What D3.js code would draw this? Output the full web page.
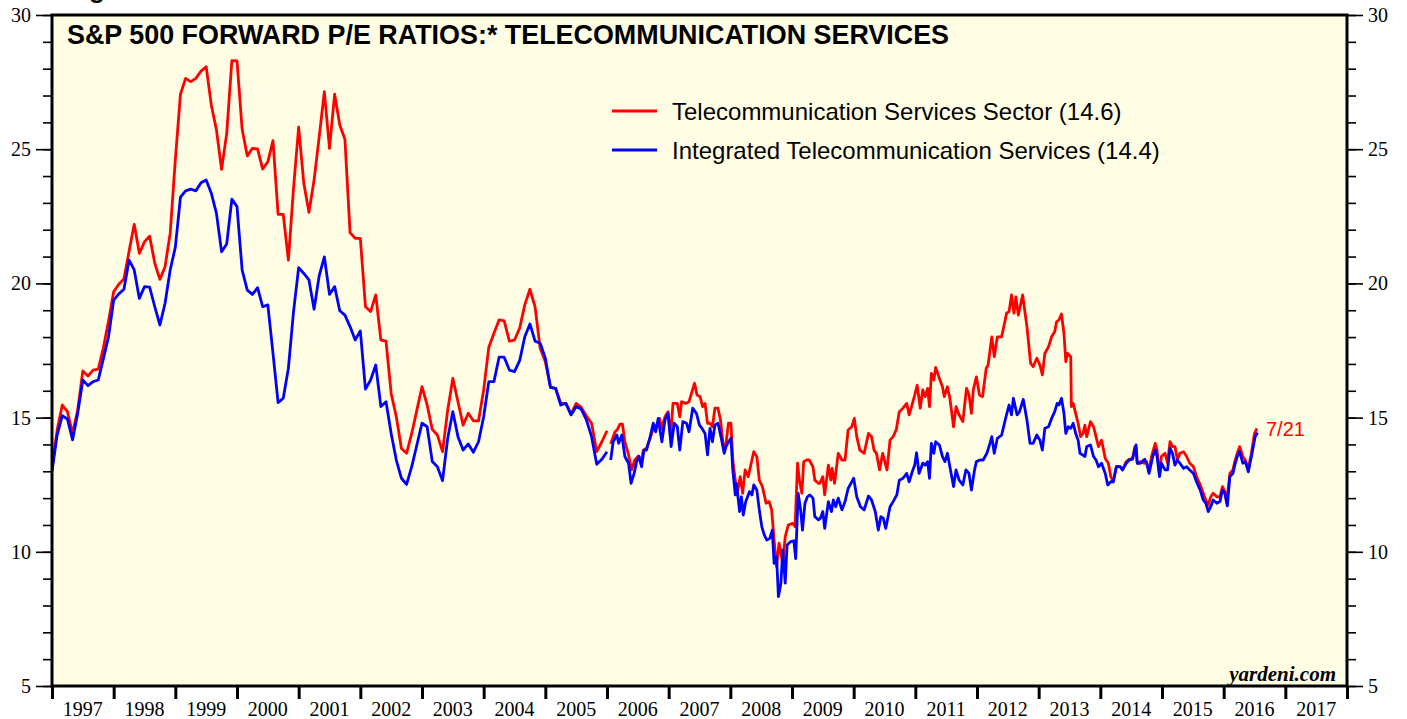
<!DOCTYPE html>
<html>
<head>
<meta charset="utf-8">
<script src="https://cdn.jsdelivr.net/npm/d3@7/dist/d3.min.js"></script>
<style>
  body { margin: 0; background: #fff; }
  svg { display: block; }
</style>
</head>
<body>
<svg id="chart" width="1407" height="719"></svg>
<script>
// year labels along the bottom
var years = d3.range(1997, 2018);
var yMajor = [5, 10, 15, 20, 25, 30];
var yMinor = d3.range(5, 31);

// monthly readings, Jan 1997 .. Jan 2006
var telecomMonthly = [
  13.1, 14.54, 15.47, 15.22, 14.41, 15.28, 16.74, 16.55, 16.77, 16.81, 17.6, 18.6,
  19.69, 19.97, 20.16, 21.2, 22.2, 21.12, 21.55, 21.76, 20.75, 20.15, 20.62, 21.87,
  24.6, 27.05, 27.64, 27.52, 27.64, 27.91, 28.07, 26.65, 25.72, 24.25, 25.59, 28.3,
  28.29, 25.74, 24.75, 25.03, 25.01, 24.26, 24.53, 25.32, 22.57, 22.57, 20.87, 23.54,
  25.82, 23.73, 22.65, 23.85, 25.47, 27.14, 25.03, 27.05, 25.9, 25.37, 21.89, 21.68,
  21.68, 19.13, 18.95, 19.57, 17.89, 17.85, 15.9, 15.03, 13.85, 13.67, 14.41, 15.28,
  16.15, 15.47, 14.56, 14.35, 13.73, 15.28, 16.46, 15.59, 14.72, 15.16, 14.88, 14.88,
  16.03, 17.62, 18.14, 18.64, 18.6, 17.85, 17.89, 18.33, 19.2, 19.78, 19.13, 17.58,
  17.08, 16.13, 16.09, 15.53, 15.53, 15.13, 15.53, 15.38, 15.06, 14.79, 13.73, 14.1,
  14.51
];
var integratedMonthly = [
  13.0, 14.35, 15.07, 14.95, 14.17, 15.16, 16.4, 16.19, 16.34, 16.4, 17.2, 18.01,
  19.38, 19.61, 19.78, 20.87, 20.5, 19.44, 19.88, 19.86, 19.13, 18.45, 19.26, 20.5,
  21.35, 23.21, 23.45, 23.51, 23.45, 23.75, 23.85, 23.36, 22.61, 21.18, 21.47, 23.14,
  22.86, 20.5, 19.75, 19.59, 19.84, 19.13, 19.2, 17.4, 15.56, 15.72, 16.84, 18.95,
  20.59, 20.37, 20.13, 19.04, 20.29, 20.99, 19.59, 19.88, 18.98, 18.82, 18.39, 17.89,
  18.23, 16.06, 16.4, 16.96, 15.41, 15.59, 14.41, 13.42, 12.74, 12.51, 13.17, 13.98,
  14.79, 14.66, 13.36, 13.17, 12.65, 14.23, 15.22, 14.29, 13.79, 14.02, 13.71, 14.1,
  15.03, 16.34, 16.34, 17.25, 17.25, 16.77, 16.71, 17.12, 18.01, 18.49, 17.85, 17.77,
  17.21, 16.13, 16.09, 15.47, 15.53, 15.1, 15.41, 15.31, 14.91, 14.29, 13.26, 13.45,
  13.73
];

// weekly readings from 2006 on: [year fraction, P/E]
var telecomWeekly = [
  [2006.06,14.02],[2006.13,14.47],[2006.17,14.56],[2006.21,14.76],[2006.25,14.76],[2006.29,14.10],
  [2006.35,13.61],[2006.40,13.05],[2006.45,13.42],[2006.51,13.57],[2006.55,13.30],[2006.59,13.79],
  [2006.64,13.86],[2006.70,14.23],[2006.75,14.60],[2006.81,14.72],[2006.85,14.97],[2006.89,14.60],
  [2006.94,15.03],[2006.99,15.22],[2007.03,14.29],[2007.07,15.53],[2007.14,15.53],[2007.18,15.03],
  [2007.21,15.59],[2007.28,15.53],[2007.33,15.59],[2007.37,15.90],[2007.42,16.28],[2007.46,15.84],
  [2007.51,15.78],[2007.55,15.41],[2007.59,15.53],[2007.63,14.79],[2007.67,14.79],[2007.71,14.66],
  [2007.75,15.35],[2007.80,15.35],[2007.84,14.91],[2007.89,13.86],[2007.93,14.04],[2007.97,14.79],
  [2008.01,14.79],[2008.04,13.42],[2008.08,12.67],[2008.11,12.12],[2008.16,12.80],[2008.20,12.18],
  [2008.24,13.05],[2008.29,12.80],[2008.35,13.42],[2008.38,13.73],[2008.43,13.55],[2008.47,12.67],
  [2008.52,12.43],[2008.58,11.81],[2008.63,11.87],[2008.67,11.56],[2008.71,10.44],[2008.75,9.45],
  [2008.79,10.32],[2008.85,9.57],[2008.89,10.56],[2008.94,11.00],[2009.01,11.06],[2009.05,10.94],
  [2009.09,13.30],[2009.12,12.67],[2009.16,12.18],[2009.19,13.36],[2009.24,13.42],[2009.28,13.42],
  [2009.34,13.17],[2009.37,12.67],[2009.43,12.55],[2009.45,12.55],[2009.50,12.80],[2009.53,12.12],
  [2009.59,13.23],[2009.63,12.67],[2009.65,13.11],[2009.69,12.55],[2009.75,13.67],[2009.81,13.42],
  [2009.86,13.42],[2009.91,14.54],[2009.97,14.66],[2010.01,14.97],[2010.05,14.29],[2010.10,13.79],
  [2010.17,13.67],[2010.24,14.41],[2010.29,14.29],[2010.33,13.79],[2010.37,13.67],[2010.42,13.05],
  [2010.47,13.67],[2010.54,13.05],[2010.59,14.16],[2010.64,14.29],[2010.69,14.54],[2010.74,15.22],
  [2010.80,15.35],[2010.86,15.53],[2010.90,15.10],[2010.96,15.59],[2010.99,15.84],[2011.03,16.21],
  [2011.08,15.35],[2011.12,16.03],[2011.16,15.78],[2011.20,16.09],[2011.23,15.41],[2011.26,16.65],
  [2011.30,16.40],[2011.33,16.87],[2011.39,16.46],[2011.44,16.15],[2011.47,15.78],[2011.52,16.15],
  [2011.56,15.72],[2011.62,14.66],[2011.66,15.41],[2011.71,15.10],[2011.77,14.85],[2011.83,16.09],
  [2011.87,15.84],[2011.91,15.16],[2011.94,16.03],[2011.99,16.52],[2012.04,15.84],[2012.09,15.78],
  [2012.15,16.84],[2012.18,16.96],[2012.24,18.01],[2012.28,17.27],[2012.33,18.01],[2012.40,18.01],
  [2012.48,18.89],[2012.52,18.95],[2012.56,19.57],[2012.60,18.89],[2012.63,19.50],[2012.67,18.82],
  [2012.74,19.57],[2012.81,18.39],[2012.87,17.02],[2012.91,16.90],[2012.97,17.21],[2013.02,16.96],
  [2013.06,16.59],[2013.10,17.39],[2013.16,17.64],[2013.21,18.01],[2013.26,18.20],[2013.29,18.57],
  [2013.33,18.64],[2013.37,18.86],[2013.41,18.14],[2013.44,17.08],[2013.47,17.39],[2013.52,17.27],
  [2013.53,15.41],[2013.56,15.53],[2013.60,15.16],[2013.64,14.79],[2013.68,14.29],[2013.72,14.41],
  [2013.75,14.72],[2013.78,14.29],[2013.84,14.85],[2013.89,14.66],[2013.93,14.29],[2013.97,13.92],
  [2014.02,14.16],[2014.08,13.48],[2014.13,13.30],[2014.17,12.80],[2014.21,12.61],[2014.26,13.17],
  [2014.32,13.17],[2014.36,13.05],[2014.42,13.36],[2014.47,13.45],[2014.52,13.45],[2014.56,13.92],
  [2014.60,13.30],[2014.65,13.36],[2014.71,13.30],[2014.75,13.36],[2014.79,12.98],[2014.83,13.55],
  [2014.89,14.04],[2014.92,13.79],[2014.96,12.86],[2014.99,13.55],[2015.05,13.67],[2015.09,13.30],
  [2015.13,14.10],[2015.17,13.92],[2015.21,13.92],[2015.25,13.42],[2015.29,13.67],[2015.35,13.73],
  [2015.40,13.55],[2015.45,13.30],[2015.51,13.17],[2015.56,12.80],[2015.62,12.49],[2015.67,12.18],
  [2015.71,11.93],[2015.75,11.74],[2015.79,12.05],[2015.83,12.18],[2015.89,12.05],[2015.94,12.05],
  [2015.98,12.43],[2016.02,12.24],[2016.05,11.81],[2016.10,12.92],[2016.15,13.05],[2016.18,13.36],
  [2016.22,13.67],[2016.26,13.92],[2016.31,13.55],[2016.35,13.42],[2016.40,13.11],[2016.45,13.67],
  [2016.50,14.41],[2016.54,14.60]
];
var integratedWeekly = [
  [2006.06,13.42],[2006.10,14.10],[2006.16,14.35],[2006.19,14.04],[2006.24,14.35],[2006.29,13.55],
  [2006.35,13.30],[2006.39,12.55],[2006.44,12.92],[2006.48,13.36],[2006.52,13.55],[2006.56,13.17],
  [2006.60,13.79],[2006.64,13.79],[2006.70,14.29],[2006.75,14.79],[2006.79,14.47],[2006.83,14.97],
  [2006.89,14.10],[2006.94,14.91],[2006.99,15.16],[2007.04,13.92],[2007.09,14.79],[2007.14,14.66],
  [2007.18,13.79],[2007.23,14.85],[2007.29,14.79],[2007.33,14.47],[2007.39,15.35],[2007.45,15.16],
  [2007.50,14.72],[2007.54,14.60],[2007.59,14.41],[2007.63,13.61],[2007.67,14.60],[2007.71,14.10],
  [2007.75,14.72],[2007.80,14.79],[2007.86,14.16],[2007.90,13.67],[2007.93,13.92],[2007.97,14.10],
  [2008.01,14.23],[2008.04,13.05],[2008.08,12.12],[2008.10,12.55],[2008.15,11.50],[2008.18,12.05],
  [2008.21,11.37],[2008.25,11.87],[2008.31,12.24],[2008.35,12.12],[2008.38,12.49],[2008.43,12.30],
  [2008.47,11.56],[2008.51,10.94],[2008.55,10.63],[2008.59,10.44],[2008.64,10.50],[2008.68,10.81],
  [2008.71,9.57],[2008.75,9.82],[2008.78,8.33],[2008.82,8.83],[2008.85,10.07],[2008.89,8.83],
  [2008.92,10.25],[2008.98,10.38],[2009.03,10.41],[2009.06,9.75],[2009.10,12.18],[2009.14,11.56],
  [2009.17,10.81],[2009.21,11.81],[2009.25,12.05],[2009.29,12.12],[2009.34,12.00],[2009.37,11.31],
  [2009.43,11.19],[2009.46,11.25],[2009.50,11.50],[2009.53,10.87],[2009.59,11.87],[2009.64,11.50],
  [2009.67,11.93],[2009.71,11.68],[2009.75,12.00],[2009.81,11.56],[2009.86,11.87],[2009.91,12.36],
  [2009.97,12.61],[2010.00,12.74],[2010.05,12.05],[2010.11,11.68],[2010.17,11.56],[2010.24,12.08],
  [2010.29,11.93],[2010.35,11.50],[2010.40,10.81],[2010.44,11.31],[2010.48,11.25],[2010.52,10.87],
  [2010.59,11.68],[2010.64,11.87],[2010.70,12.12],[2010.74,12.67],[2010.80,12.74],[2010.86,12.92],
  [2010.90,12.61],[2010.96,13.05],[2010.99,13.23],[2011.02,13.69],[2011.06,12.92],[2011.12,13.30],
  [2011.16,13.23],[2011.20,13.36],[2011.23,12.74],[2011.26,14.04],[2011.30,13.67],[2011.33,14.10],
  [2011.39,13.98],[2011.44,13.55],[2011.48,13.36],[2011.52,13.67],[2011.56,13.17],[2011.62,12.43],
  [2011.66,13.05],[2011.71,12.67],[2011.77,12.49],[2011.82,13.05],[2011.87,12.92],[2011.91,12.30],
  [2011.96,13.05],[2011.99,13.36],[2012.05,13.42],[2012.10,13.42],[2012.16,13.67],[2012.21,14.04],
  [2012.24,14.29],[2012.28,13.67],[2012.33,14.23],[2012.40,14.35],[2012.47,15.03],[2012.52,15.47],
  [2012.56,15.10],[2012.59,15.72],[2012.65,15.10],[2012.69,15.22],[2012.75,15.68],[2012.81,14.91],
  [2012.86,14.04],[2012.91,14.04],[2012.97,14.35],[2013.02,14.16],[2013.06,13.79],[2013.10,14.60],
  [2013.16,14.66],[2013.21,14.97],[2013.26,15.22],[2013.30,15.53],[2013.33,15.47],[2013.37,15.72],
  [2013.41,15.16],[2013.44,14.41],[2013.48,14.66],[2013.52,14.60],[2013.56,14.79],[2013.60,14.41],
  [2013.64,14.16],[2013.67,13.67],[2013.71,13.61],[2013.75,13.55],[2013.78,13.92],[2013.84,13.98],
  [2013.89,13.55],[2013.93,13.42],[2013.97,13.17],[2014.02,13.30],[2014.08,12.92],[2014.12,12.49],
  [2014.17,12.61],[2014.21,12.61],[2014.26,13.17],[2014.32,13.17],[2014.36,13.05],[2014.42,13.30],
  [2014.47,13.42],[2014.52,13.45],[2014.58,13.98],[2014.60,13.30],[2014.65,13.30],[2014.72,13.45],
  [2014.76,13.23],[2014.79,12.92],[2014.85,13.55],[2014.89,13.79],[2014.92,13.55],[2014.96,12.80],
  [2014.99,13.30],[2015.05,13.05],[2015.09,13.05],[2015.13,13.86],[2015.17,13.67],[2015.21,13.23],
  [2015.25,13.42],[2015.29,13.30],[2015.35,13.11],[2015.40,13.17],[2015.45,13.05],[2015.51,12.92],
  [2015.56,12.61],[2015.62,12.30],[2015.67,11.93],[2015.71,11.81],[2015.75,11.50],[2015.79,11.68],
  [2015.83,11.93],[2015.89,11.81],[2015.94,11.87],[2015.98,12.30],[2016.02,12.18],[2016.06,11.71],
  [2016.10,12.80],[2016.15,12.92],[2016.18,13.23],[2016.22,13.55],[2016.26,13.73],[2016.31,13.30],
  [2016.35,13.36],[2016.40,12.98],[2016.45,13.55],[2016.51,14.29],[2016.55,14.44]
];

var seriesNames = ["Telecommunication Services Sector (14.6)", "Integrated Telecommunication Services (14.4)"];
var seriesColors = ["#ff0000", "#0000ff"];
var lastDate = "7/21";
var title = "S&P 500 FORWARD P/E RATIOS:* TELECOMMUNICATION SERVICES";

var svg = d3.select("#chart");
var plotL = 52, plotR = 1347, plotT = 15, plotB = 686;
var serif = "'Liberation Serif', 'Times New Roman', serif";
var sans = "'Liberation Sans', Arial, Helvetica, sans-serif";

var x = d3.scaleLinear().domain([1997, 2018]).range([plotL, plotR]);
var y = d3.scaleLinear().domain([5, 30]).range([plotB, plotT]);

// cut-off heading above the frame, only its descender shows
svg.append("text")
  .attr("x", 66).attr("y", -2.5)
  .attr("font-family", sans).attr("font-weight", "bold").attr("font-size", 26)
  .text("Figure");

svg.append("rect")
  .attr("x", plotL).attr("y", plotT)
  .attr("width", plotR - plotL).attr("height", plotB - plotT)
  .attr("fill", "#fffee5");

svg.append("clipPath").attr("id", "plot")
  .append("rect")
  .attr("x", plotL).attr("y", plotT)
  .attr("width", plotR - plotL).attr("height", plotB - plotT);

// y axes, major + minor ticks on both sides
function yAxis(axisFn, xPos, size, values, labels) {
  var g = svg.append("g")
    .attr("transform", "translate(" + xPos + ",0)")
    .call(axisFn(y).tickValues(values).tickSize(size).tickPadding(labels ? 5 : 0)
      .tickFormat(labels ? d3.format("d") : ""));
  g.select(".domain").remove();
  g.selectAll("line").attr("stroke", "#000").attr("stroke-width", 1.6);
  g.selectAll("text").attr("font-family", serif).attr("font-size", 20).attr("fill", "#000");
  return g;
}
yAxis(d3.axisLeft, plotL, 9, yMinor, false);
yAxis(d3.axisLeft, plotL, 16, yMajor, true);
yAxis(d3.axisRight, plotR, 9, yMinor, false);
yAxis(d3.axisRight, plotR, 16, yMajor, true);

// x axis: tick at each year boundary, label centred in the year
var xg = svg.append("g")
  .attr("transform", "translate(0," + plotB + ")")
  .call(d3.axisBottom(x).tickValues(d3.range(1997, 2019)).tickSize(13).tickFormat(""));
xg.select(".domain").remove();
xg.selectAll("line").attr("stroke", "#000").attr("stroke-width", 3);

svg.append("g").selectAll("text")
  .data(years).enter().append("text")
  .attr("x", function(d) { return x(d + 0.5); })
  .attr("y", 716)
  .attr("text-anchor", "middle")
  .attr("font-family", serif).attr("font-size", 20)
  .text(function(d) { return d; });

// lines
var line = d3.line()
  .x(function(d) { return x(d[0]); })
  .y(function(d) { return y(d[1]); });

function monthly(vals) {
  return vals.map(function(v, i) { return [1997 + i / 12, v]; });
}

var lines = svg.append("g").attr("clip-path", "url(#plot)");
[[monthly(telecomMonthly), telecomWeekly], [monthly(integratedMonthly), integratedWeekly]]
  .forEach(function(parts, k) {
    parts.forEach(function(p) {
      lines.append("path")
        .attr("d", line(p))
        .attr("fill", "none")
        .attr("stroke", seriesColors[k])
        .attr("stroke-width", 2.8)
        .attr("stroke-linejoin", "round");
    });
  });

// frame
svg.append("rect")
  .attr("x", plotL).attr("y", plotT)
  .attr("width", plotR - plotL).attr("height", plotB - plotT)
  .attr("fill", "none").attr("stroke", "#000").attr("stroke-width", 3);

svg.append("text")
  .attr("x", 67).attr("y", 44)
  .attr("font-family", sans).attr("font-weight", "bold").attr("font-size", 26.9)
  .text(title);

// legend
var legend = svg.append("g");
seriesNames.forEach(function(name, i) {
  var ly = 111 + i * 39;
  legend.append("line")
    .attr("x1", 612).attr("x2", 657).attr("y1", ly).attr("y2", ly)
    .attr("stroke", seriesColors[i]).attr("stroke-width", 2.8);
  legend.append("text")
    .attr("x", 672).attr("y", ly + 8.5)
    .attr("font-family", sans).attr("font-size", 24)
    .text(name);
});

var lastPt = telecomWeekly[telecomWeekly.length - 1];
svg.append("text")
  .attr("x", x(lastPt[0]) + 9).attr("y", y(lastPt[1]) + 8)
  .attr("font-family", sans).attr("font-size", 20).attr("fill", "#ff0000")
  .text(lastDate);

svg.append("text")
  .attr("x", 1336).attr("y", 681)
  .attr("text-anchor", "end")
  .attr("font-family", serif).attr("font-style", "italic").attr("font-weight", "bold")
  .attr("font-size", 21)
  .text("yardeni.com");
</script>
</body>
</html>
